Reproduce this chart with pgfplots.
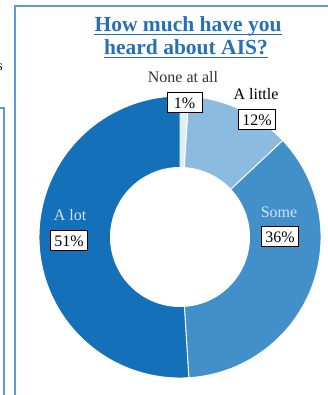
\documentclass[border=0pt]{standalone}
\usepackage{pgfplots}
\pgfplotsset{compat=1.18}
\usepackage{pgfplotstable}
\usepackage{fontspec}
\setmainfont{Liberation Serif}
\definecolor{cLot}{RGB}{20,112,184}
\definecolor{cSome}{RGB}{66,144,202}
\definecolor{cLittle}{RGB}{139,188,224}
\definecolor{cNone}{RGB}{226,237,247}
\definecolor{titleblue}{RGB}{38,112,186}
\definecolor{frameblue}{RGB}{91,155,213}
\definecolor{lighttext}{RGB}{210,226,242}
% center and radii (in pt, picture coordinates)
\def\cx{180}\def\cy{158}\def\R{141}\def\r{70}
% #1 colour, #2 cumulative percentage before the slice, #3 slice percentage
\newcommand\slice[3]{%
  \addplot[fill=#1, draw=white, line width=0.9pt, domain={90-3.6*(#2+#3)}:{90-3.6*#2}, samples=80, variable=\t]
    ({\cx+\R*cos(t)},{\cy+\R*sin(t)}) -- (axis cs:\cx,\cy) -- cycle;}
\begin{document}
\begin{tikzpicture}
\begin{axis}[x=1pt, y=1pt, xmin=0, xmax=327, ymin=0, ymax=395,
  hide axis, clip=false, anchor=origin, at={(0,0)}]
% data: None at all 1, A little 12, Some 36, A lot 51
\slice{cNone}{0}{1}
\slice{cLittle}{1}{12}
\slice{cSome}{13}{36}
\slice{cLot}{49}{51}
\addplot[fill=white, draw=none, domain=0:360, samples=120] ({\cx+\r*cos(x)},{\cy+\r*sin(x)}) -- cycle;
% title
\node[text=titleblue, font=\fontsize{21.5}{24}\selectfont\bfseries, anchor=base, inner sep=0pt] (t1) at (axis cs:188,363) {How much have you\ };
\node[text=titleblue, font=\fontsize{21.5}{24}\selectfont\bfseries, anchor=base, inner sep=0pt] (t2) at (axis cs:186,340) {heard about AIS?};
\draw[titleblue, line width=1.2pt] ([yshift=-2.2pt]t1.base west) -- ([yshift=-2.2pt]t1.base east);
\draw[titleblue, line width=1.2pt] ([yshift=-2.2pt]t2.base west) -- ([yshift=-2.2pt]t2.base east);
% labels
\tikzset{lab/.style={font=\fontsize{16}{18}\selectfont, inner sep=0pt},
  box/.style={font=\fontsize{16}{18}\selectfont, draw=black, line width=1pt, fill=white, inner xsep=4pt, inner ysep=1pt, minimum height=20pt}}
\node[lab, text=black!80] at (axis cs:183,318) {None at all};
\node[box, minimum width=35pt] at (axis cs:184.5,292) {1\%};
\node[lab, text=black] at (axis cs:256,301) {A little};
\node[box] at (axis cs:257,275) {12\%};
\node[lab, text=lighttext] at (axis cs:279,183) {Some};
\node[box] at (axis cs:280,158) {36\%};
\node[lab, text=lighttext] at (axis cs:70,180) {A lot};
\node[box] at (axis cs:69,154) {51\%};
\end{axis}
% frame fragments
\draw[frameblue, line width=1.8pt] (15pt,0) -- (15pt,389pt) -- (330pt,389pt);
\draw[frameblue, line width=1.5pt] (-2pt,287pt) -- (4pt,287pt) -- (4pt,-2pt);
\node[anchor=east, text=black!70!blue, font=\fontsize{14}{16}\selectfont, inner sep=0pt] at (3pt,328pt) {s};
\pgfresetboundingbox
\useasboundingbox (0,0) rectangle (327pt,395pt);
\end{tikzpicture}
\end{document}
